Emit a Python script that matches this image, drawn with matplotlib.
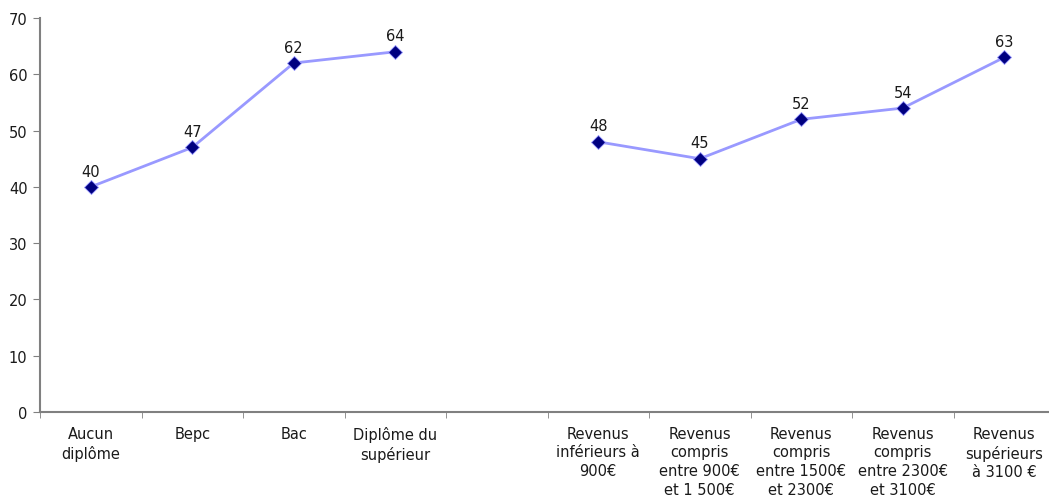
import numpy as np
import matplotlib
matplotlib.use('Agg')
import matplotlib.pyplot as plt
from matplotlib.ticker import FixedLocator

# categories: education levels, an empty slot, then income brackets
categories = [
    'Aucun\ndiplôme', 'Bepc', 'Bac', 'Diplôme du\nsupérieur', '',
    'Revenus\ninférieurs à\n900€', 'Revenus\ncompris\nentre 900€\net 1 500€',
    'Revenus\ncompris\nentre 1500€\net 2300€', 'Revenus\ncompris\nentre 2300€\net 3100€',
    'Revenus\nsupérieurs\nà 3100 €',
]
values = [40, 47, 62, 64, np.nan, 48, 45, 52, 54, 63]
y_ticks = [0, 10, 20, 30, 40, 50, 60, 70]

plt.rcParams['font.family'] = ['DejaVu Sans']

fig = plt.figure(figsize=(10.49, 5.02), dpi=100)
ax = fig.add_axes([40 / 1049, 89 / 502, 1015 / 1049, 394 / 502])

x = np.arange(len(categories))
ax.plot(x, values, color='#9999FF', linewidth=2, marker='D', markersize=7,
        markerfacecolor='#000080', markeredgecolor='#9999FF', markeredgewidth=0.6)

for xi, v in zip(x, values):
    if not np.isnan(v):
        ax.annotate(f'{int(v)}', (xi, v), xytext=(0, 6), textcoords='offset points',
                    ha='center', va='bottom', fontsize=10.5, color='#1a1a1a')

ax.set_xlim(-0.5, len(categories) - 0.5)
ax.set_ylim(0, 70)
ax.set_yticks(y_ticks)
ax.set_xticks(x)
ax.set_xticklabels(categories, fontsize=10.5, color='#1a1a1a', linespacing=1.3)
ax.xaxis.set_minor_locator(FixedLocator(np.arange(-0.5, len(categories), 1.0)))
ax.tick_params(axis='x', which='major', length=0, pad=10)
ax.tick_params(axis='x', which='minor', length=4, color='#808080', direction='out')
ax.tick_params(axis='y', length=5, color='#808080', labelsize=10.5, labelcolor='#1a1a1a', pad=4)

for side in ['top', 'right']:
    ax.spines[side].set_visible(False)
for side in ['left', 'bottom']:
    ax.spines[side].set_color('#808080')
    ax.spines[side].set_linewidth(1.5)

fig.savefig('out.png', dpi=100)
